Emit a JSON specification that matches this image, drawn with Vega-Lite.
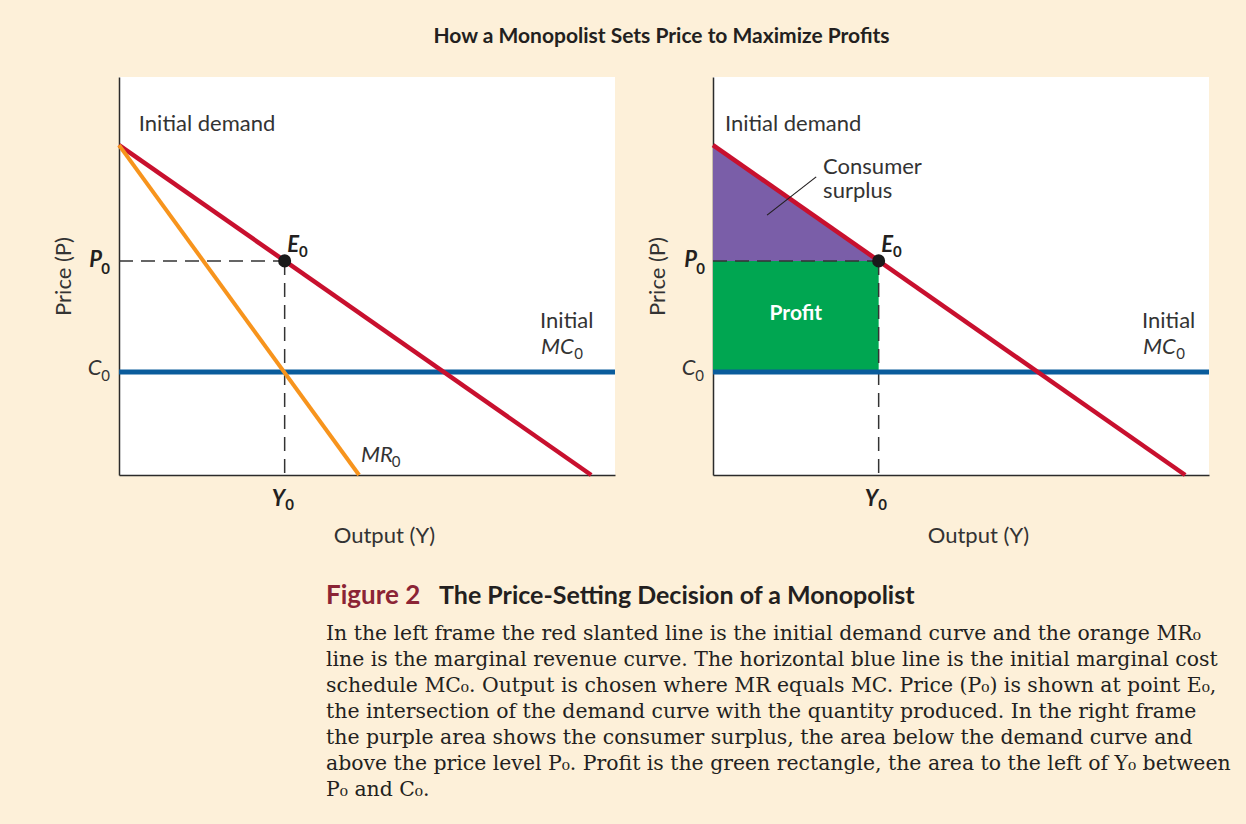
{
  "$schema": "https://vega.github.io/schema/vega-lite/v6.json",
  "background": "#fdf0d9",
  "padding": {"left": 52, "top": 26, "right": 13, "bottom": 9},
  "config": {
    "view": {"stroke": null},
    "font": "Lato",
    "axis": {"domainColor": "#2b2b2b", "domainWidth": 1.5, "ticks": false, "labels": false, "grid": false, "titleFont": "Lato", "titleFontWeight": "normal", "titleFontSize": 22, "titleColor": "#333333"}
  },
  "datasets": {
    "demand": [
      {"panel": "L", "x": 0, "y": 82.9}, {"panel": "L", "x": 95.2, "y": 0},
      {"panel": "R", "x": 0, "y": 82.9}, {"panel": "R", "x": 95.2, "y": 0}
    ],
    "mr": [{"x": 0, "y": 82.9}, {"x": 48.4, "y": 0}],
    "mc": [
      {"panel": "L", "x": 0, "y": 25.9}, {"panel": "L", "x": 100, "y": 25.9},
      {"panel": "R", "x": 0, "y": 25.9}, {"panel": "R", "x": 100, "y": 25.9}
    ],
    "guides": [
      {"panel": "L", "x": 0, "x2": 33.4, "y": 53.8, "y2": 53.8},
      {"panel": "L", "x": 33.4, "x2": 33.4, "y": 53.8, "y2": 0},
      {"panel": "R", "x": 0, "x2": 33.4, "y": 53.8, "y2": 53.8},
      {"panel": "R", "x": 33.4, "x2": 33.4, "y": 53.8, "y2": 0}
    ],
    "equilibrium": [{"panel": "L", "x": 33.4, "y": 53.8}, {"panel": "R", "x": 33.4, "y": 53.8}],
    "surplus": [{"x": 0, "y": 82.9, "y2": 53.8}, {"x": 33.4, "y": 53.8, "y2": 53.8}],
    "profit": [{"x": 0, "x2": 33.4, "y": 25.9, "y2": 53.8}],
    "leader": [{"x": 10.9, "y": 65.3, "x2": 20.8, "y2": 74.9}],
    "labels": [
      {"panel": "L", "kind": "note", "text": "Initial demand", "x": 4.0, "y": 88.2},
      {"panel": "L", "kind": "note", "text": "Initial", "x": 84.9, "y": 38.7},
      {"panel": "L", "kind": "var", "text": "MC", "x": 85.1, "y": 32.2},
      {"panel": "L", "kind": "index", "text": "0", "x": 91.8, "y": 30.4},
      {"panel": "L", "kind": "var", "text": "MR", "x": 48.8, "y": 5.0},
      {"panel": "L", "kind": "index", "text": "0", "x": 55.0, "y": 3.3},
      {"panel": "L", "kind": "var", "text": "C", "x": -6.3, "y": 27.0},
      {"panel": "L", "kind": "index", "text": "0", "x": -3.6, "y": 24.9},
      {"panel": "L", "kind": "key", "text": "P", "x": -6.0, "y": 54.0},
      {"panel": "L", "kind": "keyindex", "text": "0", "x": -3.6, "y": 51.8},
      {"panel": "L", "kind": "key", "text": "E", "x": 33.9, "y": 57.8},
      {"panel": "L", "kind": "keyindex", "text": "0", "x": 36.3, "y": 56.0},
      {"panel": "L", "kind": "key", "text": "Y", "x": 30.8, "y": -6.0},
      {"panel": "L", "kind": "keyindex", "text": "0", "x": 33.5, "y": -7.5},
      {"panel": "R", "kind": "note", "text": "Initial demand", "x": 2.4, "y": 88.2},
      {"panel": "R", "kind": "note", "text": "Consumer", "x": 22.2, "y": 77.4},
      {"panel": "R", "kind": "note", "text": "surplus", "x": 22.2, "y": 71.4},
      {"panel": "R", "kind": "area", "text": "Profit", "x": 16.7, "y": 40.5},
      {"panel": "R", "kind": "note", "text": "Initial", "x": 86.5, "y": 38.7},
      {"panel": "R", "kind": "var", "text": "MC", "x": 86.7, "y": 32.2},
      {"panel": "R", "kind": "index", "text": "0", "x": 93.4, "y": 30.4},
      {"panel": "R", "kind": "var", "text": "C", "x": -6.3, "y": 27.0},
      {"panel": "R", "kind": "index", "text": "0", "x": -3.6, "y": 24.9},
      {"panel": "R", "kind": "key", "text": "P", "x": -5.8, "y": 54.0},
      {"panel": "R", "kind": "keyindex", "text": "0", "x": -3.4, "y": 51.8},
      {"panel": "R", "kind": "key", "text": "E", "x": 33.9, "y": 57.8},
      {"panel": "R", "kind": "keyindex", "text": "0", "x": 36.3, "y": 56.0},
      {"panel": "R", "kind": "key", "text": "Y", "x": 30.6, "y": -6.0},
      {"panel": "R", "kind": "keyindex", "text": "0", "x": 33.3, "y": -7.5}
    ],
    "caption": [
      {"line": 1, "text": "In the left frame the red slanted line is the initial demand curve and the orange MR₀"},
      {"line": 2, "text": "line is the marginal revenue curve. The horizontal blue line is the initial marginal cost"},
      {"line": 3, "text": "schedule MC₀. Output is chosen where MR equals MC. Price (P₀) is shown at point E₀,"},
      {"line": 4, "text": "the intersection of the demand curve with the quantity produced. In the right frame"},
      {"line": 5, "text": "the purple area shows the consumer surplus, the area below the demand curve and"},
      {"line": 6, "text": "above the price level P₀. Profit is the green rectangle, the area to the left of Y₀ between"},
      {"line": 7, "text": "P₀ and C₀."}
    ]
  },
  "spacing": 36,
  "vconcat": [
    {
      "title": {"text": "How a Monopolist Sets Price to Maximize Profits", "anchor": "middle", "frame": "bounds", "dx": 26, "font": "Lato", "fontSize": 21, "fontWeight": "bold", "color": "#231f20", "baseline": "bottom", "offset": 9},
      "spacing": 98,
      "bounds": "flush",
      "hconcat": [
        {
          "width": 496, "height": 398,
          "view": {"fill": "white", "stroke": null},
          "encoding": {
            "x": {"field": "x", "type": "quantitative", "scale": {"domain": [0, 100], "nice": false, "zero": false}, "axis": {"title": "Output (Y)", "titlePadding": 50, "titleX": 265}},
            "y": {"field": "y", "type": "quantitative", "scale": {"domain": [0, 100], "nice": false, "zero": false}, "axis": {"title": "Price (P)", "titlePadding": 44}}
          },
          "layer": [
            {"data": {"name": "guides"}, "transform": [{"filter": "datum.panel === 'L'"}],
             "mark": {"type": "rule", "color": "#333333", "strokeWidth": 1.5, "strokeDash": [14, 8]},
             "encoding": {"x2": {"field": "x2"}, "y2": {"field": "y2"}}},
            {"data": {"name": "mc"}, "transform": [{"filter": "datum.panel === 'L'"}],
             "mark": {"type": "line", "color": "#0a5c9c", "strokeWidth": 5}},
            {"data": {"name": "demand"}, "transform": [{"filter": "datum.panel === 'L'"}],
             "mark": {"type": "line", "color": "#c8102e", "strokeWidth": 4.5}},
            {"data": {"name": "mr"},
             "mark": {"type": "line", "color": "#f7941d", "strokeWidth": 4}},
            {"data": {"name": "equilibrium"}, "transform": [{"filter": "datum.panel === 'L'"}],
             "mark": {"type": "point", "filled": true, "size": 170, "color": "#1a1a1a", "opacity": 1}},
            {"data": {"name": "labels"}, "transform": [{"filter": "datum.panel === 'L' && datum.kind === 'note'"}],
             "mark": {"type": "text", "align": "left", "baseline": "middle", "font": "Lato", "fontSize": 22, "color": "#333333"},
             "encoding": {"text": {"field": "text"}}},
            {"data": {"name": "labels"}, "transform": [{"filter": "datum.panel === 'L' && datum.kind === 'var'"}],
             "mark": {"type": "text", "align": "left", "baseline": "middle", "font": "Lato", "fontStyle": "italic", "fontSize": 22, "color": "#333333"},
             "encoding": {"text": {"field": "text"}}},
            {"data": {"name": "labels"}, "transform": [{"filter": "datum.panel === 'L' && datum.kind === 'index'"}],
             "mark": {"type": "text", "align": "left", "baseline": "middle", "font": "Lato", "fontSize": 15, "color": "#333333"},
             "encoding": {"text": {"field": "text"}}},
            {"data": {"name": "labels"}, "transform": [{"filter": "datum.panel === 'L' && datum.kind === 'key'"}],
             "mark": {"type": "text", "align": "left", "baseline": "middle", "font": "Lato", "fontStyle": "italic", "fontWeight": "bold", "fontSize": 22, "color": "#231f20"},
             "encoding": {"text": {"field": "text"}}},
            {"data": {"name": "labels"}, "transform": [{"filter": "datum.panel === 'L' && datum.kind === 'keyindex'"}],
             "mark": {"type": "text", "align": "left", "baseline": "middle", "font": "Lato", "fontWeight": "bold", "fontSize": 15, "color": "#231f20"},
             "encoding": {"text": {"field": "text"}}}
          ]
        },
        {
          "width": 496, "height": 398,
          "view": {"fill": "white", "stroke": null},
          "encoding": {
            "x": {"field": "x", "type": "quantitative", "scale": {"domain": [0, 100], "nice": false, "zero": false}, "axis": {"title": "Output (Y)", "titlePadding": 50, "titleX": 265}},
            "y": {"field": "y", "type": "quantitative", "scale": {"domain": [0, 100], "nice": false, "zero": false}, "axis": {"title": "Price (P)", "titlePadding": 44}}
          },
          "layer": [
            {"data": {"name": "surplus"},
             "mark": {"type": "area", "color": "#7a5ea8", "opacity": 1},
             "encoding": {"y2": {"field": "y2"}}},
            {"data": {"name": "profit"},
             "mark": {"type": "rect", "color": "#00a651", "opacity": 1},
             "encoding": {"x2": {"field": "x2"}, "y2": {"field": "y2"}}},
            {"data": {"name": "guides"}, "transform": [{"filter": "datum.panel === 'R'"}],
             "mark": {"type": "rule", "color": "#333333", "strokeWidth": 1.5, "strokeDash": [14, 8]},
             "encoding": {"x2": {"field": "x2"}, "y2": {"field": "y2"}}},
            {"data": {"name": "mc"}, "transform": [{"filter": "datum.panel === 'R'"}],
             "mark": {"type": "line", "color": "#0a5c9c", "strokeWidth": 5}},
            {"data": {"name": "demand"}, "transform": [{"filter": "datum.panel === 'R'"}],
             "mark": {"type": "line", "color": "#c8102e", "strokeWidth": 4.5}},
            {"data": {"name": "equilibrium"}, "transform": [{"filter": "datum.panel === 'R'"}],
             "mark": {"type": "point", "filled": true, "size": 170, "color": "#1a1a1a", "opacity": 1}},
            {"data": {"name": "leader"},
             "mark": {"type": "rule", "color": "#231f20", "strokeWidth": 1.2},
             "encoding": {"x2": {"field": "x2"}, "y2": {"field": "y2"}}},
            {"data": {"name": "labels"}, "transform": [{"filter": "datum.panel === 'R' && datum.kind === 'note'"}],
             "mark": {"type": "text", "align": "left", "baseline": "middle", "font": "Lato", "fontSize": 22, "color": "#333333"},
             "encoding": {"text": {"field": "text"}}},
            {"data": {"name": "labels"}, "transform": [{"filter": "datum.panel === 'R' && datum.kind === 'area'"}],
             "mark": {"type": "text", "align": "center", "baseline": "middle", "font": "Lato", "fontWeight": "bold", "fontSize": 21, "color": "white"},
             "encoding": {"text": {"field": "text"}}},
            {"data": {"name": "labels"}, "transform": [{"filter": "datum.panel === 'R' && datum.kind === 'var'"}],
             "mark": {"type": "text", "align": "left", "baseline": "middle", "font": "Lato", "fontStyle": "italic", "fontSize": 22, "color": "#333333"},
             "encoding": {"text": {"field": "text"}}},
            {"data": {"name": "labels"}, "transform": [{"filter": "datum.panel === 'R' && datum.kind === 'index'"}],
             "mark": {"type": "text", "align": "left", "baseline": "middle", "font": "Lato", "fontSize": 15, "color": "#333333"},
             "encoding": {"text": {"field": "text"}}},
            {"data": {"name": "labels"}, "transform": [{"filter": "datum.panel === 'R' && datum.kind === 'key'"}],
             "mark": {"type": "text", "align": "left", "baseline": "middle", "font": "Lato", "fontStyle": "italic", "fontWeight": "bold", "fontSize": 22, "color": "#231f20"},
             "encoding": {"text": {"field": "text"}}},
            {"data": {"name": "labels"}, "transform": [{"filter": "datum.panel === 'R' && datum.kind === 'keyindex'"}],
             "mark": {"type": "text", "align": "left", "baseline": "middle", "font": "Lato", "fontWeight": "bold", "fontSize": 15, "color": "#231f20"},
             "encoding": {"text": {"field": "text"}}}
          ]
        }
      ]
    },
    {
      "width": 1115, "height": 234,
      "view": {"stroke": null, "fill": null},
      "layer": [
        {"data": {"values": [{"part": "Figure 2"}]},
         "mark": {"type": "text", "align": "left", "baseline": "middle", "font": "Lato", "fontWeight": "bold", "fontSize": 26, "color": "#8b2435"},
         "encoding": {
           "x": {"datum": 18.57, "type": "quantitative", "scale": {"domain": [0, 100], "nice": false, "zero": false}, "axis": null},
           "y": {"datum": -0.46, "type": "quantitative", "scale": {"domain": [-1, 8], "nice": false, "zero": false, "reverse": true}, "axis": null},
           "text": {"field": "part"}}},
        {"data": {"values": [{"part": "The Price-Setting Decision of a Monopolist"}]},
         "mark": {"type": "text", "align": "left", "baseline": "middle", "font": "Lato", "fontWeight": "bold", "fontSize": 25, "color": "#231f20"},
         "encoding": {
           "x": {"datum": 28.7, "type": "quantitative", "scale": {"domain": [0, 100], "nice": false, "zero": false}, "axis": null},
           "y": {"datum": -0.46, "type": "quantitative", "scale": {"domain": [-1, 8], "nice": false, "zero": false, "reverse": true}, "axis": null},
           "text": {"field": "part"}}},
        {"data": {"name": "caption"},
         "mark": {"type": "text", "align": "left", "baseline": "middle", "font": "DejaVu Serif", "fontSize": 20.4, "color": "#231f20"},
         "encoding": {
           "x": {"datum": 18.57, "type": "quantitative", "scale": {"domain": [0, 100], "nice": false, "zero": false}, "axis": null},
           "y": {"field": "line", "type": "quantitative", "scale": {"domain": [-1, 8], "nice": false, "zero": false, "reverse": true}, "axis": null},
           "text": {"field": "text"}}}
      ]
    }
  ]
}
